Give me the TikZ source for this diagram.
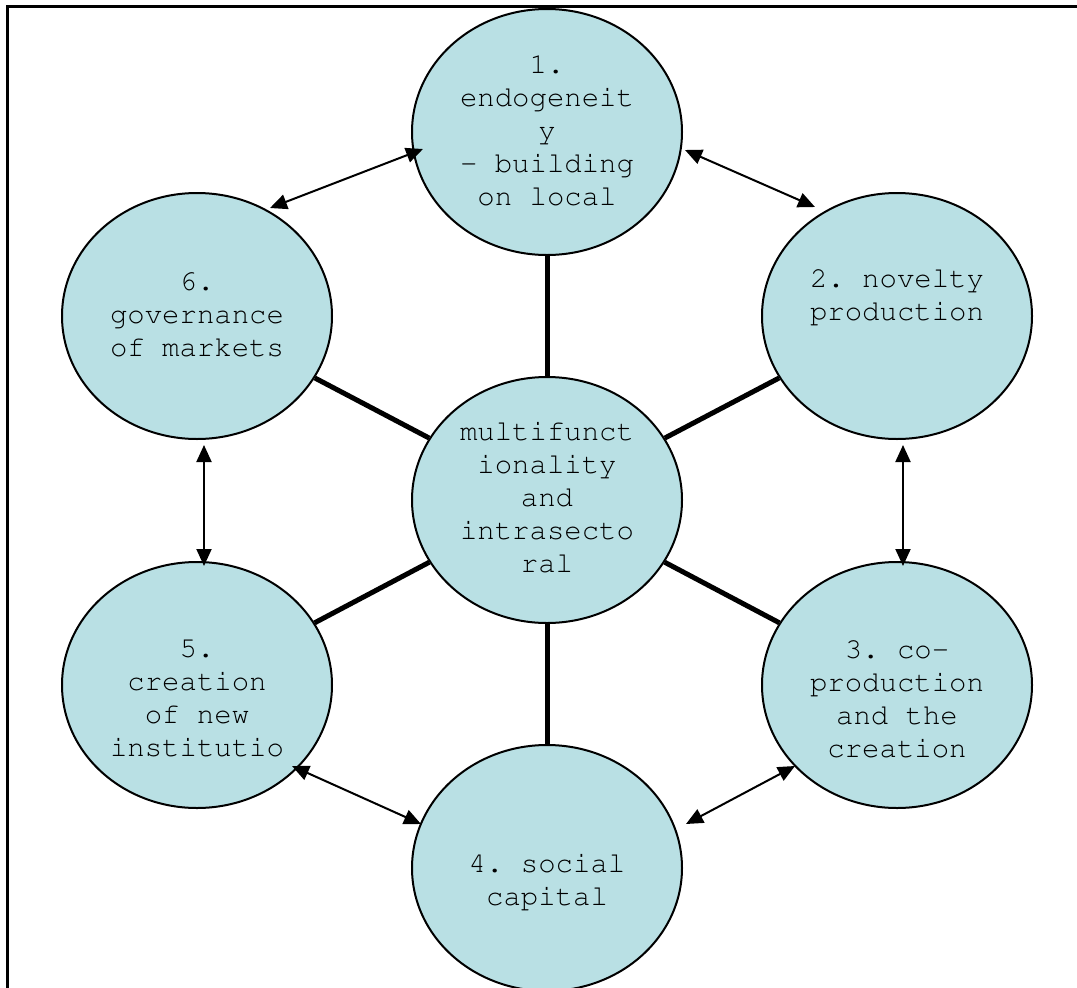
\documentclass[tikz,border=0pt]{standalone}
\usepackage[T1]{fontenc}
\usepackage{courier}
\usetikzlibrary{arrows.meta,shapes.geometric}
\definecolor{bubble}{RGB}{185,224,228}
\tikzset{
  bub/.style={ellipse, draw=black, line width=2pt, fill=bubble,
    minimum width=270pt, minimum height=246pt, inner sep=0pt},
  txt/.style={align=center, inner sep=0pt, font=\fontsize{29pt}{33pt}\selectfont\ttfamily\frenchspacing},
  spoke/.style={line width=5pt},
  link/.style={line width=2pt, {Triangle[length=17pt,width=15pt]}-{Triangle[length=17pt,width=15pt]}}
}
\begin{document}
\begin{tikzpicture}[x=1pt,y=-1pt]
\clip (0,0) rectangle (1077,988);
\fill[white] (0,0) rectangle (1077,988);
\draw[line width=3pt] (7,6) rectangle (1100,1010);

\node[bub] (c)  at (547,500) {};
\node[bub] (e1) at (547,132) {};
\node[bub] (e2) at (897,316) {};
\node[bub] (e3) at (897,685) {};
\node[bub] (e4) at (547,868) {};
\node[bub] (e5) at (197,685) {};
\node[bub] (e6) at (197,316) {};

\foreach \n in {e1,e2,e3,e4,e5,e6} \draw[spoke] (c) -- (\n);

\node[txt] (t0) at (547,497) {multifunct\\ionality\\and\\intrasecto\\ral};
\node[txt] (t1) at (547,130) {1.\\endogeneit\\y\\- building\\on local};
\node[txt] (t2) at (897,297) {2. novelty\\production};
\node[txt] (t3) at (897,699) {3. co-\\production\\and the\\creation};
\node[txt] (t4) at (547,882) {4. social\\capital};
\node[txt] (t5) at (197,699) {5.\\creation\\of new\\institutio};
\node[txt] (t6) at (197,314) {6.\\governance\\of markets};

\coordinate (a1r) at (685,150);
\coordinate (a2l) at (815,207);
\coordinate (a1l) at (423,149);
\coordinate (a6r) at (270,208);
\coordinate (a6b) at (204,445);
\coordinate (a5t) at (204,566);
\coordinate (a2b) at (903,445);
\coordinate (a3t) at (903,566);
\coordinate (a5r) at (292,766);
\coordinate (a4l) at (421,824);
\coordinate (a3l) at (795,766);
\coordinate (a4r) at (686,824);

\draw[link] (a1r) -- (a2l);
\draw[link] (a1l) -- (a6r);
\draw[link] (a6b) -- (a5t);
\draw[link] (a2b) -- (a3t);
\draw[link] (a5r) -- (a4l);
\draw[link] (a3l) -- (a4r);
\end{tikzpicture}
\end{document}
